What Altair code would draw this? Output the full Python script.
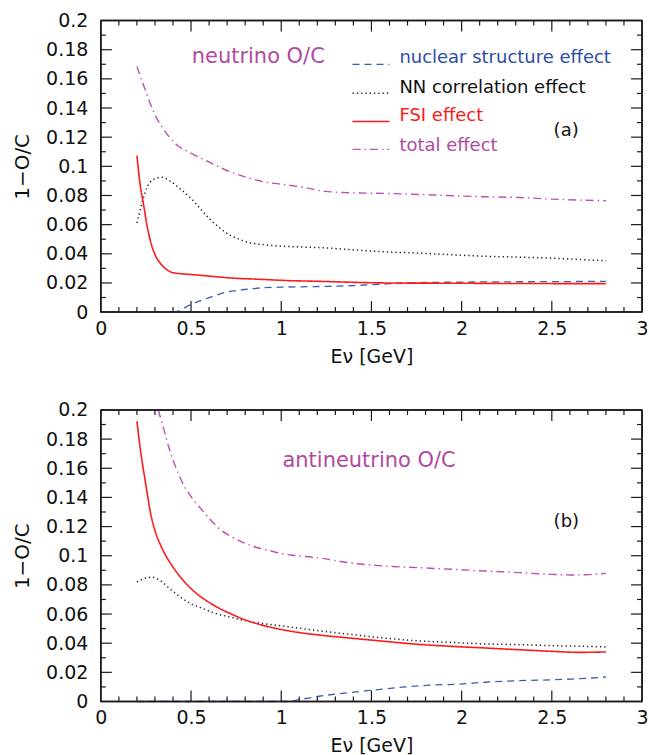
import altair as alt
import pandas as pd

# ---------------- data ----------------
# Panel (a): neutrino O/C
a_nuc_E = [0.2, 0.3, 0.4, 0.42, 0.5, 0.6, 0.7, 0.8, 0.9, 1.0, 1.23, 1.4, 1.58, 1.76, 2.13, 2.5, 2.8]
a_nuc_v = [0.0, 0.0, 0.0, 0.0004, 0.0053, 0.0099, 0.0138, 0.0155, 0.0167, 0.0171, 0.0176, 0.0182, 0.0193, 0.0202, 0.0207, 0.0209, 0.0211]

a_nn_E = [0.2, 0.228, 0.255, 0.29, 0.338, 0.383, 0.44, 0.5, 0.55, 0.6, 0.66, 0.71, 0.77, 0.82, 0.9, 1.0,
          1.1, 1.25, 1.4, 1.58, 1.76, 1.95, 2.13, 2.32, 2.5, 2.69, 2.8]
a_nn_v = [0.0612, 0.0748, 0.0852, 0.0909, 0.0925, 0.0900, 0.0845, 0.0780, 0.0712, 0.0642, 0.0577, 0.0532,
          0.0498, 0.0478, 0.0463, 0.0452, 0.0447, 0.0440, 0.0427, 0.0413, 0.0405, 0.0393, 0.0383, 0.0377,
          0.0370, 0.0359, 0.0352]

a_fsi_E = [0.2, 0.218, 0.237, 0.255, 0.273, 0.3, 0.328, 0.365, 0.4, 0.457, 0.5, 0.6, 0.71, 0.9, 1.0, 1.21,
           1.58, 1.95, 2.4, 2.8]
a_fsi_v = [0.1073, 0.0874, 0.0737, 0.0600, 0.0497, 0.0395, 0.0338, 0.0292, 0.0270, 0.0262, 0.0258, 0.0247,
           0.0235, 0.0224, 0.0218, 0.0211, 0.0200, 0.0198, 0.0196, 0.0195]

a_tot_E = [0.2, 0.246, 0.3, 0.356, 0.42, 0.5, 0.61, 0.71, 0.82, 0.92, 1.03, 1.14, 1.22, 1.4, 1.58, 1.76,
           1.95, 2.13, 2.32, 2.5, 2.67, 2.8]
a_tot_v = [0.1685, 0.1525, 0.1354, 0.1240, 0.1148, 0.1090, 0.1023, 0.0966, 0.0920, 0.0890, 0.0873, 0.0852,
           0.0832, 0.0818, 0.0814, 0.0807, 0.0798, 0.0791, 0.0786, 0.0775, 0.0768, 0.0764]

# Panel (b): antineutrino O/C
b_nuc_E = [0.2, 0.6, 1.03, 1.1, 1.21, 1.4, 1.5, 1.67, 1.82, 1.98, 2.13, 2.32, 2.5, 2.61, 2.8]
b_nuc_v = [0.0, 0.0, 0.0, 0.0013, 0.0036, 0.0064, 0.0077, 0.0098, 0.0112, 0.0119, 0.0132, 0.0143, 0.0149,
           0.0154, 0.0168]

b_nn_E = [0.2, 0.237, 0.283, 0.328, 0.383, 0.44, 0.5, 0.567, 0.64, 0.714, 0.806, 0.897, 1.0, 1.117, 1.21,
          1.4, 1.58, 1.76, 1.95, 2.13, 2.32, 2.5, 2.69, 2.8]
b_nn_v = [0.0819, 0.0842, 0.0853, 0.0830, 0.0773, 0.0717, 0.0671, 0.0637, 0.0603, 0.0580, 0.0553, 0.0535,
          0.0519, 0.0500, 0.0485, 0.0458, 0.0434, 0.0416, 0.0405, 0.0395, 0.0390, 0.0383, 0.0378, 0.0374]

b_fsi_E = [0.2, 0.218, 0.237, 0.255, 0.273, 0.3, 0.328, 0.365, 0.4, 0.457, 0.5, 0.55, 0.6, 0.66, 0.714,
           0.806, 0.897, 1.0, 1.1, 1.21, 1.4, 1.58, 1.76, 1.95, 2.13, 2.32, 2.5, 2.65, 2.8]
b_fsi_v = [0.1923, 0.1740, 0.1581, 0.1445, 0.1308, 0.1172, 0.1081, 0.0990, 0.0922, 0.0830, 0.0774, 0.0722,
           0.0680, 0.0637, 0.0605, 0.0557, 0.0523, 0.0494, 0.0473, 0.0456, 0.0433, 0.0412, 0.0392, 0.0378,
           0.0367, 0.0355, 0.0344, 0.0337, 0.0340]

b_tot_E = [0.318, 0.347, 0.383, 0.42, 0.466, 0.503, 0.549, 0.604, 0.659, 0.714, 0.787, 0.86, 0.934,
           1.007, 1.081, 1.19, 1.4, 1.58, 1.76, 1.95, 2.13, 2.32, 2.5, 2.61, 2.69, 2.8]
b_tot_v = [0.2000, 0.1877, 0.1718, 0.1593, 0.1468, 0.1400, 0.1331, 0.1252, 0.1183, 0.1138, 0.1092,
           0.1058, 0.1036, 0.1013, 0.1001, 0.0988, 0.0948, 0.0929, 0.0918, 0.0907, 0.0895, 0.0884, 0.0872,
           0.0868, 0.0870, 0.0879]

series_names = ["nuclear structure effect", "NN correlation effect", "FSI effect", "total effect"]

# legend placement (data coordinates of panel a)
legend_line_y = [0.1700, 0.1502, 0.1308, 0.1116]
legend_text_y = [0.1740, 0.1539, 0.1342, 0.1140]
legend_x0 = [1.395]
legend_x1 = [1.6]
legend_tx = [1.655]

# panel annotations: (text, E, value)
a_notes = [("neutrino O/C", 0.504, 0.175), ("(a)", 2.51, 0.124)]
b_notes = [("antineutrino O/C", 1.007, 0.165), ("(b)", 2.51, 0.1229)]

x_ticks = [0, 0.5, 1, 1.5, 2, 2.5, 3]
y_ticks = [0, 0.02, 0.04, 0.06, 0.08, 0.1, 0.12, 0.14, 0.16, 0.18, 0.2]
x_minor = [round(i * 0.1, 1) for i in range(1, 30)]
y_minor = [round(i * 0.01, 2) for i in range(1, 20)]
X_MIN, X_MAX = 0.0, 3.0
Y_MIN, Y_MAX = 0.0, 0.2

# ---------------- styling ----------------
W, H = 542, 292
FONT = "DejaVu Sans"
INK = "#1a1a1a"
MINOR_PX, MAJOR_PX = 5, 11
styles = [
    dict(color="#3a5cb4", text="#2f4ca6", dash=[7, 5], width=1.3),
    dict(color="#222222", text="#111111", dash=[1.3, 3], width=1.5),
    dict(color="#ff1a1a", text="#ff1a1a", dash=[1, 0], width=1.6),
    dict(color="#c050b0", text="#b04aa0", dash=[8, 4, 1.5, 4], width=1.4),
]

xs = alt.Scale(domain=[X_MIN, X_MAX], nice=False, zero=False)
ys = alt.Scale(domain=[Y_MIN, Y_MAX], nice=False, zero=False)

common = dict(ticks=False, domain=False, grid=False, labelFlush=False, labelOverlap=False,
              labelFontSize=19, labelFont=FONT, titleFont=FONT, titleFontWeight="normal",
              labelColor="#111", titleColor="#111")
x_axis = alt.Axis(values=x_ticks, format="~g", title="E\u03bd [GeV]", labelPadding=7,
                  titleFontSize=19, titlePadding=9, **common)
y_axis = alt.Axis(values=y_ticks, format="~g", title="1\u2212O/C", labelPadding=13,
                  titleFontSize=20, titlePadding=13, **common)


def xenc(field="E"):
    return alt.X(f"{field}:Q", scale=xs, axis=x_axis)


def yenc(field="v"):
    return alt.Y(f"{field}:Q", scale=ys, axis=y_axis)


def frame_and_ticks():
    # tick lengths converted from pixels into data units so the rules go through the scales
    lx = {MINOR_PX: MINOR_PX / W * (X_MAX - X_MIN), MAJOR_PX: MAJOR_PX / W * (X_MAX - X_MIN)}
    ly = {MINOR_PX: MINOR_PX / H * (Y_MAX - Y_MIN), MAJOR_PX: MAJOR_PX / H * (Y_MAX - Y_MIN)}
    xt_rows, yt_rows = [], []
    for t in x_minor:
        ln = MAJOR_PX if abs(t * 2 - round(t * 2)) < 1e-9 else MINOR_PX
        xt_rows.append({"t": t, "a": Y_MIN, "b": Y_MIN + ly[ln]})
        xt_rows.append({"t": t, "a": Y_MAX, "b": Y_MAX - ly[ln]})
    for t in y_minor:
        ln = MAJOR_PX if abs(t * 50 - round(t * 50)) < 1e-9 else MINOR_PX
        yt_rows.append({"t": t, "a": X_MIN, "b": X_MIN + lx[ln]})
        yt_rows.append({"t": t, "a": X_MAX, "b": X_MAX - lx[ln]})
    layers = [
        alt.Chart(pd.DataFrame(xt_rows)).mark_rule(color=INK, strokeWidth=1.2).encode(
            x=xenc("t"), y=yenc("a"), y2="b:Q"),
        alt.Chart(pd.DataFrame(yt_rows)).mark_rule(color=INK, strokeWidth=1.2).encode(
            y=yenc("t"), x=xenc("a"), x2="b:Q"),
        alt.Chart(pd.DataFrame({"x0": [X_MIN, X_MIN], "x1": [X_MAX, X_MAX], "y": [Y_MIN, Y_MAX]}))
        .mark_rule(color=INK, strokeWidth=1.5).encode(x=xenc("x0"), x2="x1:Q", y=yenc("y")),
        alt.Chart(pd.DataFrame({"y0": [Y_MIN, Y_MIN], "y1": [Y_MAX, Y_MAX], "x": [X_MIN, X_MAX]}))
        .mark_rule(color=INK, strokeWidth=1.5).encode(y=yenc("y0"), y2="y1:Q", x=xenc("x")),
    ]
    return layers


def panel(curves, notes, legend):
    layers = []
    for (E, v), st in zip(curves, styles):
        df = pd.DataFrame({"E": E, "v": v})
        layers.append(alt.Chart(df).mark_line(color=st["color"], strokeDash=st["dash"],
                                              strokeWidth=st["width"],
                                              interpolate="monotone").encode(x=xenc(), y=yenc()))
    if legend:
        for i, (name, st) in enumerate(zip(series_names, styles)):
            ldf = pd.DataFrame({"x0": legend_x0, "x1": legend_x1, "y": [legend_line_y[i]],
                                "ty": [legend_text_y[i]], "tx": legend_tx, "label": [name]})
            layers.append(alt.Chart(ldf).mark_rule(color=st["color"], strokeDash=st["dash"],
                                                   strokeWidth=st["width"]).encode(
                x=xenc("x0"), x2="x1:Q", y=yenc("y")))
            layers.append(alt.Chart(ldf).mark_text(color=st["text"], align="left", baseline="middle",
                                                   font=FONT, fontSize=18).encode(
                x=xenc("tx"), y=yenc("ty"), text="label:N"))
    ndf = pd.DataFrame({"label": [n[0] for n in notes], "E": [n[1] for n in notes],
                        "v": [n[2] for n in notes]})
    layers.append(alt.Chart(ndf.iloc[[0]]).mark_text(color="#b04aa0", align="left", baseline="middle",
                                                     font=FONT, fontSize=21).encode(
        x=xenc(), y=yenc(), text="label:N"))
    layers.append(alt.Chart(ndf.iloc[[1]]).mark_text(color="#111", align="left", baseline="middle",
                                                     font=FONT, fontSize=18).encode(
        x=xenc(), y=yenc(), text="label:N"))
    layers += frame_and_ticks()
    return alt.layer(*layers).properties(width=W, height=H)


top = panel([(a_nuc_E, a_nuc_v), (a_nn_E, a_nn_v), (a_fsi_E, a_fsi_v), (a_tot_E, a_tot_v)], a_notes, True)
bot = panel([(b_nuc_E, b_nuc_v), (b_nn_E, b_nn_v), (b_fsi_E, b_fsi_v), (b_tot_E, b_tot_v)], b_notes, False)

chart = alt.vconcat(top, bot, spacing=98, bounds="flush").properties(
    padding={"left": 11, "top": 10, "right": 0, "bottom": 0},
    background="white",
).configure_view(stroke=INK, strokeWidth=1.5)

chart.save("out.html", embed_options={"renderer": "svg", "actions": False})
